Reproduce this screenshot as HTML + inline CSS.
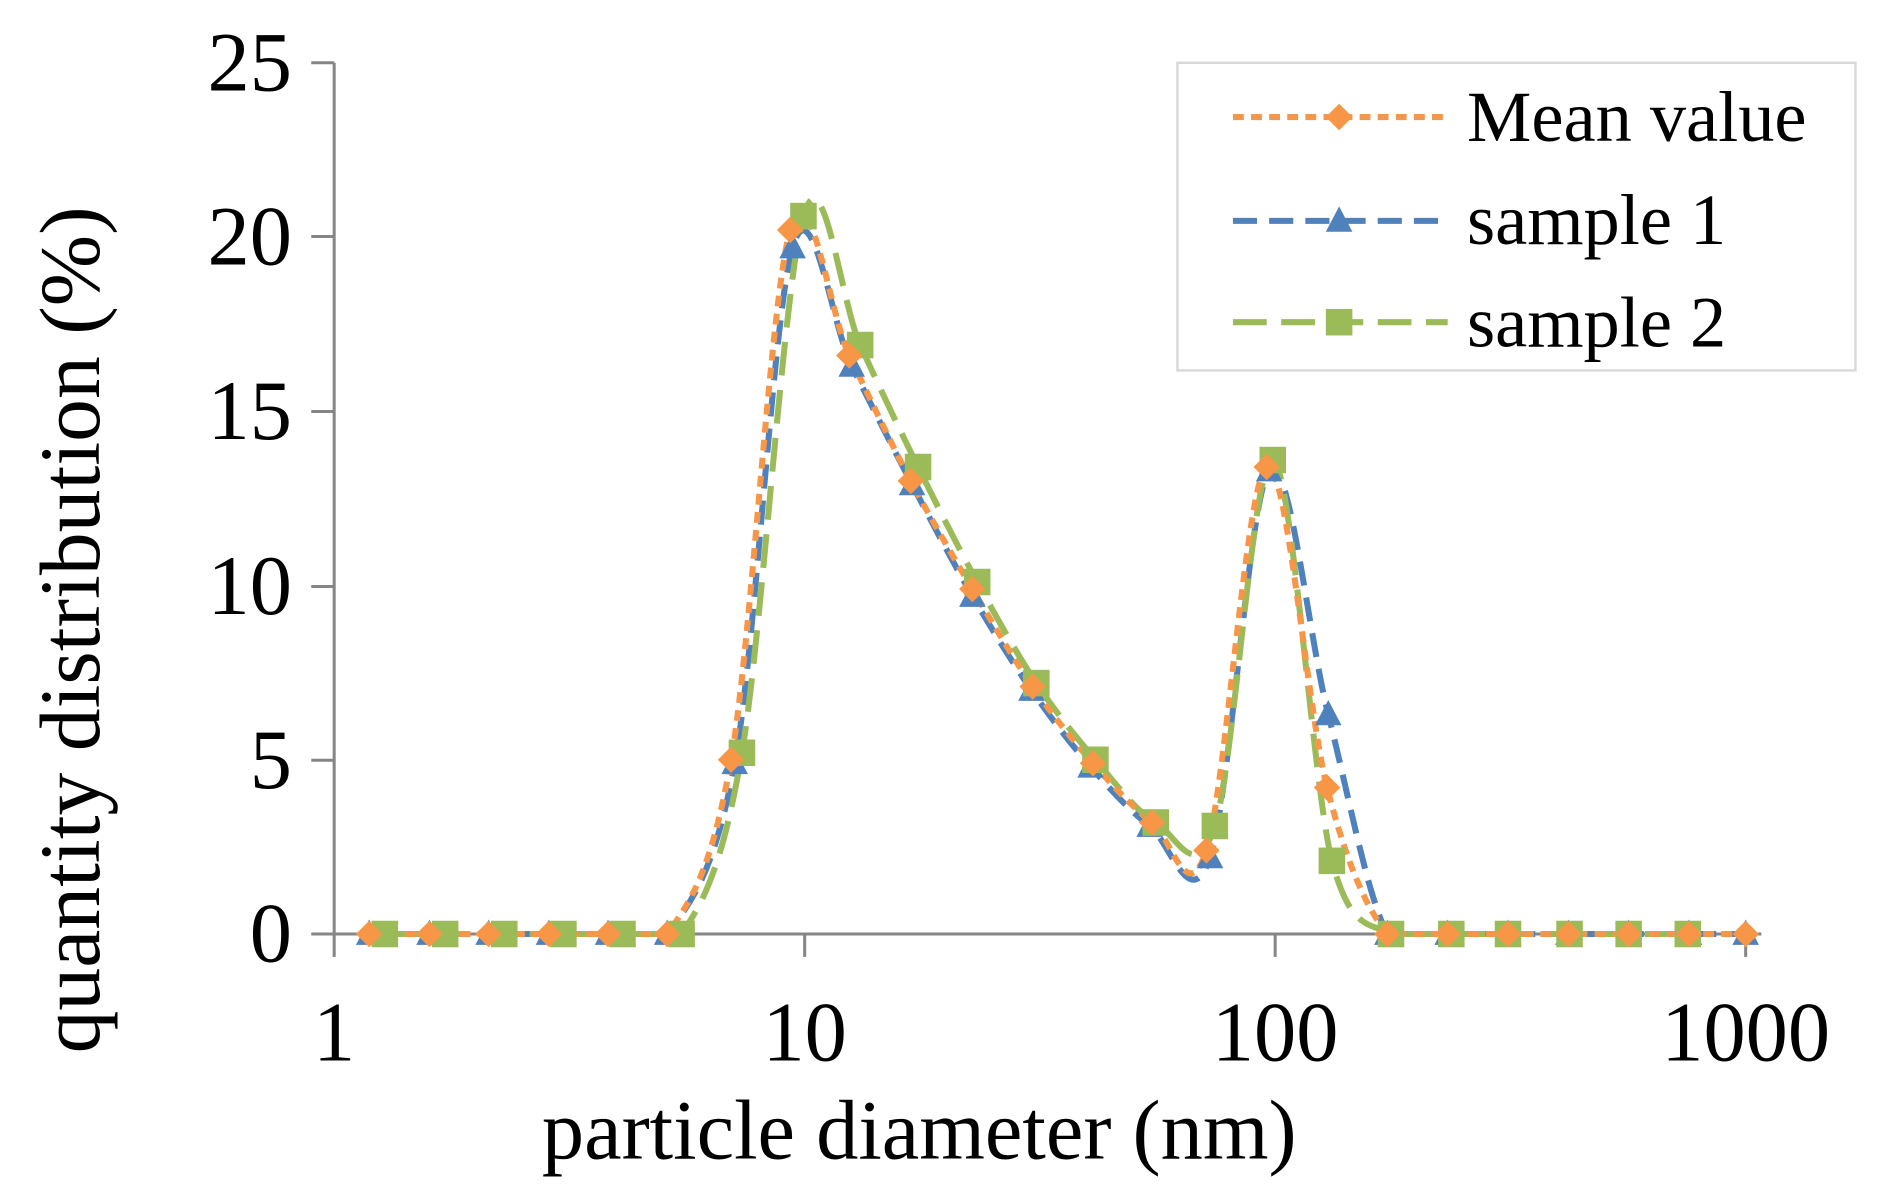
<!DOCTYPE html>
<html><head><meta charset="utf-8"><style>
html,body{margin:0;padding:0;background:#fff;}
svg{display:block;}
text{font-family:"Liberation Serif",serif;fill:#000;}
</style></head><body>
<svg id="s" width="1882" height="1185" viewBox="0 0 1560 982" preserveAspectRatio="none" xmlns="http://www.w3.org/2000/svg">
<g stroke="#868686" stroke-width="2.5" fill="none">
<line x1="277" y1="52" x2="277" y2="774"/>
<line x1="258" y1="774" x2="1460" y2="774"/>
<line x1="258" y1="52" x2="277" y2="52"/>
<line x1="258" y1="196" x2="277" y2="196"/>
<line x1="258" y1="341" x2="277" y2="341"/>
<line x1="258" y1="486" x2="277" y2="486"/>
<line x1="258" y1="630" x2="277" y2="630"/>
<line x1="277" y1="774" x2="277" y2="793"/>
<line x1="667" y1="774" x2="667" y2="793"/>
<line x1="1057" y1="774" x2="1057" y2="793"/>
<line x1="1447" y1="774" x2="1447" y2="793"/>
</g>
<g font-size="70" text-anchor="end">
<text x="242" y="75">25</text><text x="242" y="219">20</text><text x="242" y="364">15</text>
<text x="242" y="509">10</text><text x="242" y="653">5</text><text x="242" y="797">0</text>
</g>
<g font-size="70" text-anchor="middle">
<text x="277" y="879">1</text><text x="667" y="879">10</text><text x="1057" y="879">100</text><text x="1447" y="879">1000</text>
</g>
<text x="762" y="960" font-size="70" text-anchor="middle">particle diameter (nm)</text>
<text transform="translate(82,522) rotate(-90)" font-size="71" text-anchor="middle">quantity distribution (%)</text>
<g id="series"></g>
<rect x="976" y="52" width="562" height="255" fill="#fff" stroke="#d9d9d9" stroke-width="2"/>
<g id="leg"></g>
<g font-size="60">
<text x="1216" y="117">Mean value</text>
<text x="1216" y="202">sample 1</text>
<text x="1216" y="287">sample 2</text>
</g>
</svg>
<script>
var NS="http://www.w3.org/2000/svg";
function Y(v){return 774-v*28.88;}
var mean=[[306,0],[356,0],[405,0],[455,0],[504,0],[553,0],[606,5.0],[655,20.2],[704,16.6],[755,13.0],[806,9.9],[856,7.1],[906,4.9],[955,3.2],[1000,2.4],[1050,13.4],[1100,4.2],[1150,0],[1200,0],[1250,0],[1300,0],[1350,0],[1400,0],[1447,0]];
var s1=[[306,0],[356,0],[405,0],[455,0],[504,0],[553,0],[609,4.9],[657,19.7],[706,16.3],[756,12.9],[806,9.7],[855,7.0],[904,4.8],[953,3.1],[1003,2.2],[1052,13.3],[1101,6.3],[1150,0],[1200,0],[1250,0],[1300,0],[1350,0],[1400,0],[1447,0]];
var s2=[[319,0],[369,0],[418,0],[467,0],[516,0],[565,0],[615,5.2],[666,20.6],[713,16.9],[761,13.4],[810,10.1],[859,7.2],[908,5.0],[958,3.2],[1007,3.1],[1055,13.6],[1104,2.1],[1153,0],[1203,0],[1250,0],[1301,0],[1350,0],[1399,0]];
function cl(y){return Math.min(y,774);}
function path(d){var p=d.map(function(a){return [a[0],Y(a[1])];});var s="M"+p[0][0]+","+p[0][1];
for(var i=0;i<p.length-1;i++){var p0=p[i-1]||p[i],p1=p[i],p2=p[i+1],p3=p[i+2]||p2;var t=0.5/3;
var c1=[p1[0]+(p2[0]-p0[0])*t,cl(p1[1]+(p2[1]-p0[1])*t)],c2=[p2[0]-(p3[0]-p1[0])*t,cl(p2[1]-(p3[1]-p1[1])*t)];
if(p1[1]==774&&p2[1]==774){c1[1]=774;c2[1]=774;}
s+=" C"+c1+" "+c2+" "+p2;}return s;}
var g=document.getElementById("series"),lg=document.getElementById("leg");
function el(par,n,a){var e=document.createElementNS(NS,n);for(var k in a)e.setAttribute(k,a[k]);par.appendChild(e);return e;}
var defs=[[s1,"#4f81bd","20,10","tri"],[s2,"#9bbb59","28,12","sq"],[mean,"#f79646","9,6","dia"]];
function mark(par,type,x,y,c){
 if(type=="tri")el(par,"polygon",{points:(x)+","+(y-12)+" "+(x-11)+","+(y+9)+" "+(x+11)+","+(y+9),fill:c});
 else if(type=="sq")el(par,"rect",{x:x-11,y:y-11,width:22,height:22,fill:c});
 else el(par,"polygon",{points:x+","+(y-11)+" "+(x+11)+","+y+" "+x+","+(y+11)+" "+(x-11)+","+y,fill:c});}
defs.forEach(function(d){el(g,"path",{d:path(d[0]),fill:"none",stroke:d[1],"stroke-width":5,"stroke-dasharray":d[2]});});
defs.forEach(function(d){d[0].forEach(function(p){mark(g,d[3],p[0],Y(p[1]),d[1]);});});
var ly={dia:97,tri:183,sq:267};
defs.forEach(function(d){var y=ly[d[3]];el(lg,"line",{x1:1022,y1:y,x2:1200,y2:y,stroke:d[1],"stroke-width":5,"stroke-dasharray":d[2]});mark(lg,d[3],1110,y,d[1]);});
</script>
</body></html>
